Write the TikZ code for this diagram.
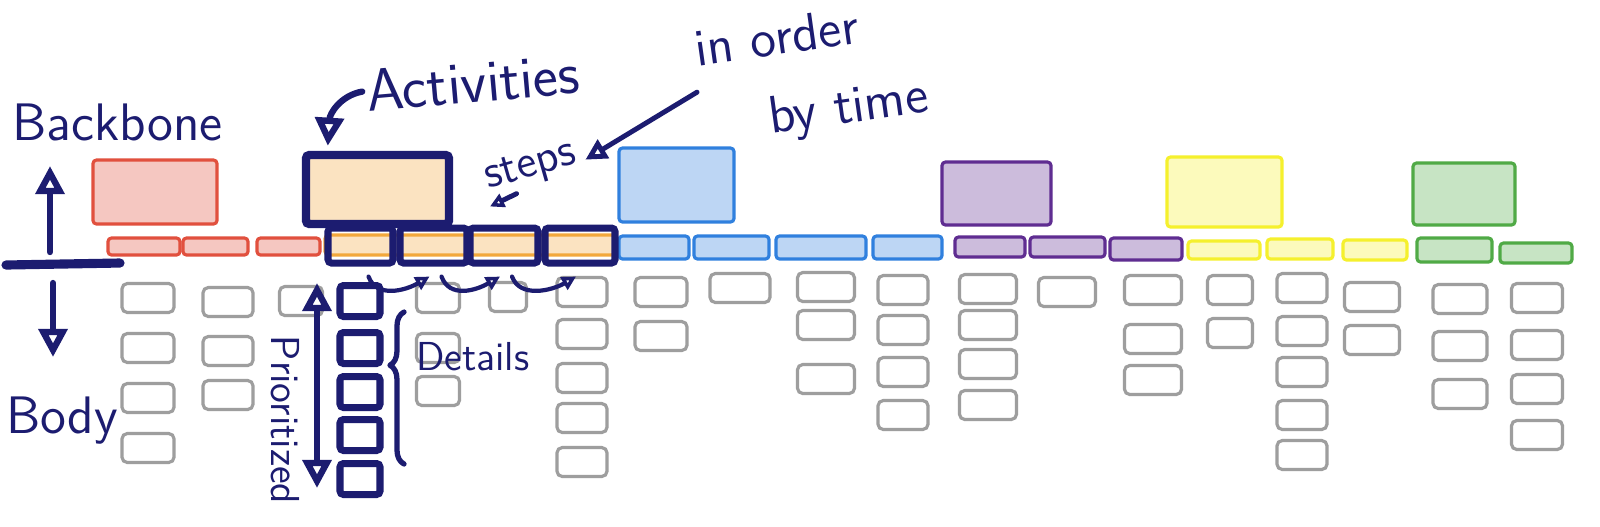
\documentclass[tikz,border=0pt]{standalone}
\usepackage{fontspec}
\usetikzlibrary{arrows.meta,decorations.pathreplacing}

\definecolor{navy}{RGB}{28,28,112}
\definecolor{mapred}{RGB}{225,80,62}
\definecolor{maporange}{RGB}{242,168,60}
\definecolor{mapblue}{RGB}{48,128,222}
\definecolor{mappurple}{RGB}{95,45,145}
\definecolor{mapyellow}{RGB}{245,240,45}
\definecolor{mapgreen}{RGB}{80,170,70}
\definecolor{detailgray}{RGB}{158,158,158}

\def\pxu{0.01cm}

\tikzset{
  spans/.style n args={4}{at={({(#1+#3)/2},{(#2+#4)/2})},
    minimum width={(#3-#1)*\pxu}, minimum height={(#4-#2)*\pxu}},
  card/.style={draw=#1, fill=#1!32!white, line width=0.9pt,
    rounded corners=1pt, inner sep=0pt},
  stepbox/.style={draw=navy, line width=2pt, rounded corners=1pt, inner sep=0pt},
  detail/.style={draw=detailgray, line width=0.9pt, rounded corners=1.5pt,
    inner sep=0pt, minimum height=29*\pxu},
  pen/.style={draw=navy, line width=1.8pt, line cap=round, line join=round},
  scribble/.style={text=navy, inner sep=1pt,
    font=\sffamily\fontsize{#1}{#1}\selectfont},
}

\begin{document}
\begin{tikzpicture}[x=0.01cm, y=-0.01cm,
    >={Triangle[open,length=8pt,width=8pt]}]
  \fill[white] (0,0) rectangle (1600,526);
  \useasboundingbox (0,0) rectangle (1600,526);

  \foreach \c/\xa/\ya/\xb/\yb [count=\i] in {mapred/93/160/217/224,
      mapblue/619/148/734/222, mappurple/942/162/1051/225,
      mapyellow/1167/157/1282/227, mapgreen/1413/163/1515/225}
    \node[card=\c, spans={\xa}{\ya}{\xb}{\yb}] (act\i) {};
  \foreach \c/\xa/\ya/\xb/\yb [count=\i] in {mapred/108/238/180/255,
      mapred/183/238/248/255, mapred/257/238/320/255,
      mapblue/619/236/689/259, mapblue/694/236/769/259,
      mapblue/776/236/866/259, mapblue/873/236/942/259,
      mappurple/955/237/1025/257, mappurple/1030/237/1105/257,
      mappurple/1110/238/1182/260, mapyellow/1188/241/1260/259,
      mapyellow/1267/239/1333/259, mapyellow/1343/240/1407/260,
      mapgreen/1417/238/1492/262, mapgreen/1500/243/1572/263}
    \node[card=\c, spans={\xa}{\ya}{\xb}{\yb}] (task\i) {};

  \foreach \cx/\w/\rows [count=\i] in {148/52/{298,348,398,448},
      228/50/{302,351,395}, 301/43/{301}, 438/43/{298,348,391},
      508/37/{297}, 582/50/{292,334,378,418,462}, 661/52/{292,336},
      740/60/{288}, 826/57/{287,325,379}, 903/50/{290,330,372,415},
      988/57/{289,325,364,405}, 1067/57/{292}, 1153/57/{290,339,380},
      1230/45/{290,333}, 1302/50/{288,331,372,415,455}, 1372/55/{297,340},
      1460/54/{299,346,394}, 1537/51/{298,345,389,435}}
    \foreach \cy [count=\j] in \rows
      \node[detail, minimum width=\w*\pxu] (det\i-\j) at (\cx,\cy) {};

  \node[card=maporange, draw=navy, line width=2.4pt,
    spans={306}{155}{449}{224}] (acts) {};
  \node[card=maporange, spans={325}{235}{615}{255}] (strip) {};
  \foreach \xa/\xb [count=\i] in {328/393, 400/467, 470/538, 545/615}
    \node[stepbox, spans={\xa}{228}{\xb}{263}] (st\i) {};
  \foreach \i [evaluate=\i as \k using int(\i+1)] in {1,2,3}
    \draw[pen, line width=1.2pt, -{Triangle[open,length=4pt,width=4pt]}]
      ([shift={(8,10)}]st\i.south) .. controls +(8,22) and +(-24,14) ..
      ([shift={(-4,10)}]st\k.south);
  \foreach \cy [count=\j] in {301,348,392,435,479}
    \node[stepbox, minimum width=40*\pxu, minimum height=31*\pxu]
      (pd\j) at (360,\cy) {};

  \coordinate (ax-l) at (6,265);
  \coordinate (ax-r) at (120,263);
  \coordinate (up-a) at (50,252);
  \coordinate (up-b) at (50,166);
  \coordinate (dn-a) at (53,283);
  \coordinate (dn-b) at (53,357);
  \coordinate (pr-top) at (317,283);
  \coordinate (pr-bot) at (317,488);
  \draw[pen, line width=2.6pt] (ax-l) -- (ax-r);
  \draw[pen, ->] (up-a) -- (up-b);
  \draw[pen, ->] (dn-a) -- (dn-b);
  \draw[pen, <->] (pr-top) -- (pr-bot);
  \draw[pen, line width=1.5pt, decorate,
    decoration={brace, amplitude=4pt, aspect=0.65}]
    ([shift={(44,4)}]pd5.north) -- ([shift={(44,-8)}]pd1.south);

  \node[scribble=15, anchor=base west] (bbone) at (8,140) {Backbone};
  \node[scribble=15, anchor=base west] (body) at (2,433) {Body};
  \node[scribble=17, anchor=base west, rotate=5] (actl) at (364,112) {Activities};
  \node[scribble=13, anchor=base west, rotate=16] (stp) at (484,190) {steps};
  \node[scribble=15, align=left, rotate=8] (ordr) at (812,76)
    {in order\\[7pt]\hspace*{1.2em}by time};
  \node[scribble=11.5, anchor=base west] (dtl) at (412,370) {Details};
  \node[scribble=11.5, rotate=-90] (prio) at (285,420) {Prioritized};

  \draw[pen, ->] (actl.west) .. controls +(-22,4) and +(2,-32) ..
    ([shift={(26,-5)}]acts.north west);
  \draw[pen, line width=1.4pt, -{Triangle[open,length=6pt,width=6pt]}]
    (ordr.west) -- ([shift={(6,6)}]stp.east);
  \draw[pen, line width=1.4pt, -{Triangle[open,length=4pt,width=4pt]}]
    ([shift={(-14,26)}]stp.center) -- ([shift={(-14,-18)}]st3.north);
\end{tikzpicture}
\end{document}
